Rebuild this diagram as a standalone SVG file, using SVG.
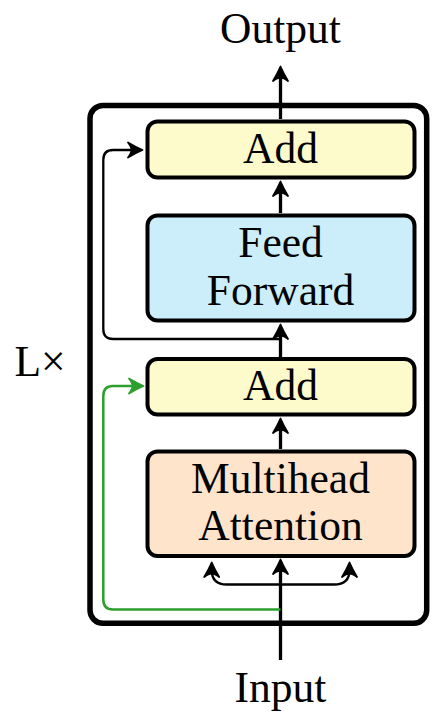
<svg xmlns="http://www.w3.org/2000/svg" width="435" height="726" viewBox="0 0 435 726">
<style>
text{font-family:"Liberation Serif","DejaVu Serif",serif;font-size:43.5px;fill:#000;text-anchor:middle}
.box{stroke:#000;stroke-width:4}
.add{fill:#FDFACB}
.ff{fill:#CCEEFA}
.mha{fill:#FFE4CC}
.thick{fill:none;stroke:#000;stroke-width:3.3}
.thin{fill:none;stroke:#000;stroke-width:2.3}
.green{fill:none;stroke:#2CA02C;stroke-width:2.5}
</style>
<defs>
<marker id="ah" markerUnits="userSpaceOnUse" markerWidth="40" markerHeight="40" refX="0" refY="0" viewBox="-20 -20 40 40" orient="auto" overflow="visible">
<path d="M7.5,0 C4,-1.5 -2,-4.5 -7,-7.5 Q-3.5,-3 -3.5,0 Q-3.5,3 -7,7.5 C-2,4.5 4,1.5 7.5,0 Z" fill="#000" stroke="#000" stroke-width="1.8" stroke-linejoin="round"/>
</marker>
<marker id="ahg" markerUnits="userSpaceOnUse" markerWidth="40" markerHeight="40" refX="0" refY="0" viewBox="-20 -20 40 40" orient="auto" overflow="visible">
<path d="M7.5,0 C4,-1.5 -2,-4.5 -7,-7.5 Q-3.5,-3 -3.5,0 Q-3.5,3 -7,7.5 C-2,4.5 4,1.5 7.5,0 Z" fill="#2CA02C" stroke="#2CA02C" stroke-width="1.8" stroke-linejoin="round"/>
</marker>
</defs>
<g id="block">
<rect x="90" y="105.5" width="336.7" height="517.8" rx="13" fill="none" stroke="#000" stroke-width="5.5"/>
</g>
<g id="connectors">
<path class="thick" d="M280.5,660 V567" marker-end="url(#ah)"/>
<path class="thick" d="M280.5,449 V426" marker-end="url(#ah)"/>
<path class="thick" d="M280.5,357 V332" marker-end="url(#ah)"/>
<path class="thick" d="M280.5,213 V189" marker-end="url(#ah)"/>
<path class="thick" d="M280.5,119 V74" marker-end="url(#ah)"/>
<path class="thin" d="M280.5,339 H113 Q103.3,339 103.3,329 V160 Q103.3,150 113,150 H135" marker-end="url(#ah)"/>
<path class="green" d="M280.5,609.5 H113 Q103.3,609.5 103.3,599.5 V396 Q103.3,386 113,386 H136" marker-end="url(#ahg)"/>
<path class="thin" d="M280.5,584.5 H227 Q211.7,584.5 211.7,570" marker-end="url(#ah)"/>
<path class="thin" d="M280.5,584.5 H334 Q349.5,584.5 349.5,570" marker-end="url(#ah)"/>
</g>
<g id="add1">
<rect class="box add" x="147.5" y="121.5" width="267" height="56" rx="10"/>
<text x="280.5" y="163">Add</text>
</g>
<g id="feedforward">
<rect class="box ff" x="147.5" y="215.5" width="267" height="105" rx="10"/>
<text x="280.5" y="257">Feed</text>
<text x="280.5" y="305">Forward</text>
</g>
<g id="add2">
<rect class="box add" x="147.5" y="359" width="267" height="55.5" rx="10"/>
<text x="280.5" y="400">Add</text>
</g>
<g id="mha">
<rect class="box mha" x="147.5" y="451.5" width="267" height="104.5" rx="10"/>
<text x="280.5" y="493">Multihead</text>
<text x="280.5" y="540">Attention</text>
</g>
<g id="output"><text x="280.5" y="43">Output</text></g>
<g id="input"><text x="280.5" y="702">Input</text></g>
<g id="repeat"><text x="40" y="376">L×</text></g>
</svg>
